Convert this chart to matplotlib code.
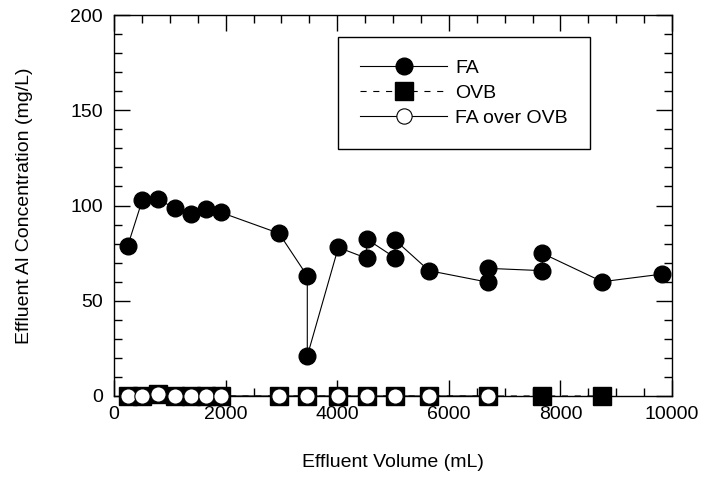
import matplotlib
matplotlib.use('Agg')
import matplotlib.pyplot as plt
from matplotlib.ticker import MultipleLocator

plt.rcParams['font.family'] = ['Liberation Sans', 'DejaVu Sans']

# FA column (two samples at some volumes)
volume_fa = [245, 508, 795, 1093, 1374, 1649, 1912, 2957, 3464, 3464, 4020,
             4528, 4528, 5036, 5036, 5645, 6708, 6708, 7676, 7676, 8751, 9826]
al_fa = [78.7, 102.9, 103.2, 98.5, 95.4, 98.0, 96.4, 85.4, 63.0, 21.0, 78.0,
         72.3, 82.4, 72.6, 81.9, 65.8, 59.7, 67.0, 65.8, 74.9, 60.0, 64.0]

# OVB column
volume_ovb = [245, 508, 795, 1093, 1374, 1649, 1912, 2957, 3464, 4020,
              4528, 5036, 5645, 6708, 7676, 8751]
al_ovb = [0, 0, 1.0, 0, 0, 0, 0, 0, 0, 0, 0, 0, 0, 0, 0, 0]

# FA over OVB column
volume_fa_ovb = [245, 508, 795, 1093, 1374, 1649, 1912, 2957, 3464, 4020,
                 4528, 5036, 5645, 6708]
al_fa_ovb = [0, 0, 1.0, 0, 0, 0, 0, 0, 0, 0, 0, 0, 0, 0]

fig = plt.figure(figsize=(7.13, 4.8), dpi=100)
ax = fig.add_axes([114 / 713, 1 - 396 / 480, 558 / 713, 381 / 480])

ovb, = ax.plot(volume_ovb, al_ovb, color='k', linestyle=(0, (5.5, 6)), linewidth=0.8,
               marker='s', markersize=12.5, markerfacecolor='k', markeredgecolor='k',
               label='OVB', clip_on=False, zorder=3)
fa_ovb, = ax.plot(volume_fa_ovb, al_fa_ovb, color='k', linestyle='-', linewidth=0.8,
                  marker='o', markersize=11, markerfacecolor='white', markeredgecolor='k',
                  markeredgewidth=0.8, label='FA over OVB', clip_on=False, zorder=4)
fa, = ax.plot(volume_fa, al_fa, color='k', linestyle='-', linewidth=0.8,
              marker='o', markersize=12, markerfacecolor='k', markeredgecolor='k',
              label='FA', clip_on=False, zorder=5)

ax.set_xlim(0, 10000)
ax.set_ylim(0, 200)
ax.xaxis.set_major_locator(MultipleLocator(2000))
ax.xaxis.set_minor_locator(MultipleLocator(500))
ax.yaxis.set_major_locator(MultipleLocator(50))
ax.yaxis.set_minor_locator(MultipleLocator(10))

ax.tick_params(which='both', direction='in', top=True, right=True, width=1)
ax.tick_params(which='major', length=11.5, labelsize=14)
ax.tick_params(axis='x', which='major', pad=7)
ax.tick_params(axis='y', which='major', pad=8)
ax.tick_params(which='minor', length=5.8)
for s in ax.spines.values():
    s.set_linewidth(1.0)

ax.set_xlabel("Effluent Volume (mL)", fontsize=14)
ax.set_ylabel("Effluent Al Concentration (mg/L)", fontsize=14)
ax.xaxis.set_label_coords(0.5, -0.153)
ax.yaxis.set_label_coords(-0.145, 0.5)

leg = ax.legend(handles=[fa, ovb, fa_ovb], loc='upper left', bbox_to_anchor=(0.4014, 0.942),
                borderaxespad=0, fancybox=False, edgecolor='k', framealpha=1,
                handlelength=4.5, handletextpad=0.4, borderpad=1.13, labelspacing=0.38,
                numpoints=1, fontsize=14)
leg.get_frame().set_linewidth(1.0)

fig.savefig('out.png', dpi=100)
